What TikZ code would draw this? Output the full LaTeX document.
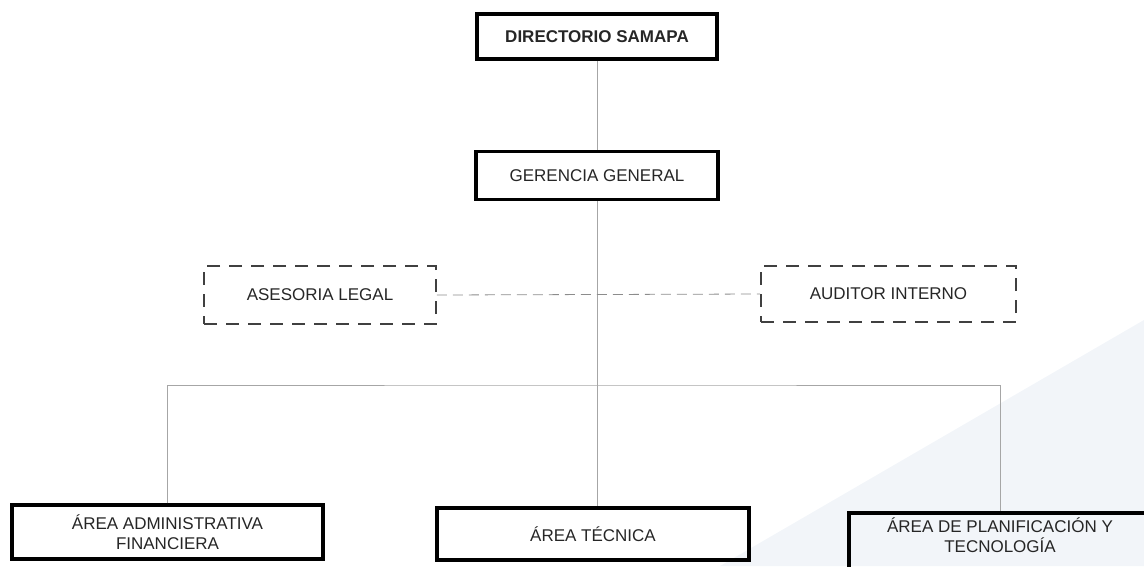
\documentclass[tikz,border=0pt]{standalone}
\usepackage{fontspec}
\setmainfont{Liberation Sans}
\usepackage{tikz}
\usetikzlibrary{positioning}
\definecolor{wmark}{RGB}{242,245,249}
\tikzset{
    font={\fontsize{17pt}{20pt}\selectfont},
    unit/.style={
           rectangle,
           draw=black, line width=3.5pt,
           text=black!85,
           inner sep=2pt,
           align=center,
           anchor=center,
           },
    advisor/.style={
           rectangle,
           draw=black!75, line width=1.8pt,
           dash pattern=on 13pt off 9pt,
           text=black!85,
           align=center,
           anchor=center,
           },
    conn/.style={draw=gray!70, line width=0.8pt},
    dashconn/.style={draw=black!45, line width=0.8pt, dash pattern=on 10pt off 6pt},
}
\begin{document}
\begin{tikzpicture}

\useasboundingbox (0pt,0pt) rectangle (1144pt,-566pt);
\clip (0pt,0pt) rectangle (1144pt,-566pt);
% faint watermark of the scan
\fill[wmark] (720pt,-566pt) -- (1144pt,-320pt) -- (1144pt,-566pt) -- cycle;

\node[unit, minimum width=240pt, minimum height=45pt] (DIRSAMAPA) at (597pt,-36.5pt) {\textbf{DIRECTORIO SAMAPA}};

\node[unit, below of=DIRSAMAPA, node distance=139pt, minimum width=242pt, minimum height=48pt] (GERENCIA) {GERENCIA GENERAL};

% staff units
\node[advisor, below of=GERENCIA, node distance=119.5pt, xshift=-277pt,
minimum width=232pt, minimum height=58pt] (ASESORIA) {ASESORIA LEGAL};

\node[advisor, right of=ASESORIA, node distance=568.5pt, yshift=1pt,
minimum width=255pt, minimum height=56pt] (AUDITOR) {AUDITOR INTERNO};

% areas
\node[unit, below of=GERENCIA, node distance=358.5pt, xshift=-4pt,
minimum width=312pt, minimum height=52pt] (AREATEC) {ÁREA TÉCNICA};

\node[unit, left of=AREATEC, node distance=425.5pt, yshift=2pt,
minimum width=311pt, minimum height=54pt] (AREAADMIN) {ÁREA ADMINISTRATIVA\\FINANCIERA};

\node[unit, right of=AREATEC, node distance=407pt, yshift=-9pt,
minimum width=302pt, minimum height=60pt, text depth=16pt] (AREAPLAN) {ÁREA DE PLANIFICACIÓN Y\\TECNOLOGÍA};

\coordinate (BUS) at (597pt,-385pt);

\path (DIRSAMAPA)   edge[conn]  (GERENCIA)
(GERENCIA.south)    edge[conn]  (GERENCIA.south |- AREATEC.north)
(ASESORIA.east)     edge[dashconn]  (AUDITOR.west)
;
\draw[conn] (AREAADMIN.north) |- (BUS) -| (AREAPLAN.north);

\end{tikzpicture}
\end{document}
